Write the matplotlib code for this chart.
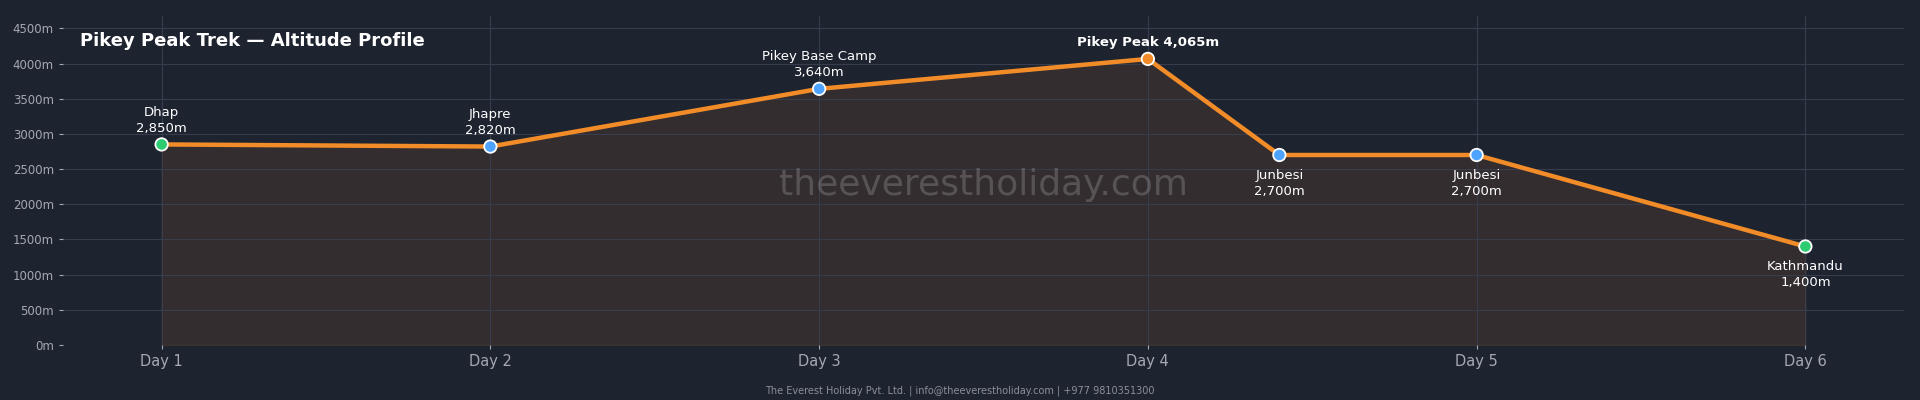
import matplotlib
matplotlib.use('Agg')
import matplotlib.pyplot as plt

# dane trasy
days = [1, 2, 3, 4, 4.4, 5, 6]
altitudes = [2850, 2820, 3640, 4065, 2700, 2700, 1400]
places = ['Dhap', 'Jhapre', 'Pikey Base Camp', 'Pikey Peak', 'Junbesi', 'Junbesi', 'Kathmandu']
day_ticks = [1, 2, 3, 4, 5, 6]
day_labels = ['Day 1', 'Day 2', 'Day 3', 'Day 4', 'Day 5', 'Day 6']
y_ticks = [0, 500, 1000, 1500, 2000, 2500, 3000, 3500, 4000, 4500]

BG = '#1e2330'
ORANGE = '#f28c28'
GREEN = '#2ecc71'
BLUE = '#4da3ff'
GRID = '#373d4c'

fig = plt.figure(figsize=(19.2, 4), dpi=100, facecolor=BG)
ax = fig.add_axes([63 / 1920, 55 / 400, 1841 / 1920, 329 / 400])
ax.set_facecolor(BG)

ax.fill_between(days, altitudes, 0, color=ORANGE, alpha=0.1, zorder=1)
ax.plot(days, altitudes, color=ORANGE, linewidth=3.2, zorder=3)

marker_colors = [GREEN, BLUE, BLUE, ORANGE, BLUE, BLUE, GREEN]
ax.scatter(days, altitudes, s=80, c=marker_colors, edgecolors='white', linewidths=1.3, zorder=4)

# etykiety punktów
for x, y, name in zip(days, altitudes, places):
    label = f"{name}\n{y:,}m"
    if name == 'Pikey Peak':
        ax.annotate(f"{name} {y:,}m", (x, y), xytext=(0, 7), textcoords='offset points',
                    ha='center', va='bottom', color='white', fontsize=9.5, fontweight='bold')
    elif y < 2800:
        ax.annotate(label, (x, y), xytext=(0, -10), textcoords='offset points',
                    ha='center', va='top', color='white', fontsize=9.5, linespacing=1.3)
    else:
        ax.annotate(label, (x, y), xytext=(0, 7), textcoords='offset points',
                    ha='center', va='bottom', color='white', fontsize=9.5, linespacing=1.3)

ax.set_xlim(0.7, 6.3)
ax.set_ylim(0, 4675)
ax.set_xticks(day_ticks)
ax.set_xticklabels(day_labels, fontsize=10.5, color='#a3a8b4')
ax.set_yticks(y_ticks)
ax.set_yticklabels([f"{v}m" for v in y_ticks], fontsize=8.5, color='#a3a8b4')
ax.tick_params(axis='both', colors='#a3a8b4', length=3)
for lbl in ax.get_xticklabels():
    lbl.set_color('#a3a8b4')

ax.grid(True, color=GRID, linewidth=0.8, zorder=0)
for s in ax.spines.values():
    s.set_visible(False)

ax.text(0.5, 0.485, 'theeverestholiday.com', transform=ax.transAxes, ha='center', va='center',
        fontsize=26, color='#ffffff', alpha=0.18, zorder=2)

fig.text(80 / 1920, 1 - 41 / 400, 'Pikey Peak Trek \u2014 Altitude Profile', ha='left', va='center',
         fontsize=13, fontweight='bold', color='white')
fig.text(0.5, 1 - 391 / 400, 'The Everest Holiday Pvt. Ltd. | info@theeverestholiday.com | +977 9810351300',
         ha='center', va='center', fontsize=7, color='#8a8f9b')

plt.savefig('out.png', dpi=100, facecolor=BG)
plt.close()
